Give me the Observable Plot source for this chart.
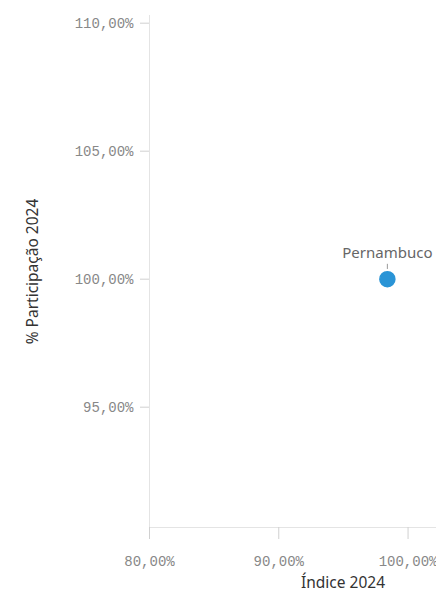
<!DOCTYPE html>
<html>
<head>
<meta charset="utf-8">
<script src="https://cdn.jsdelivr.net/npm/d3@7"></script>
<script src="https://cdn.jsdelivr.net/npm/@observablehq/plot@0.6"></script>
<style>
  html, body { margin: 0; padding: 0; background: #fff; }
  svg { display: block; }
</style>
</head>
<body>
<div id="chart"></div>
<script>
const states = ["Pernambuco"];
const indice2024 = [98.4];        // % (x)
const participacao2024 = [100.0]; // % (y)
const xTicks = [80, 90, 100];
const yTicks = [95, 100, 105, 110];
const xLabel = "Índice 2024";
const yLabel = "% Participação 2024";

const data = states.map((s, i) => ({name: s, x: indice2024[i], y: participacao2024[i]}));
const fmt = d => d.toFixed(2).replace(".", ",") + "%";
const mono = "Liberation Mono";

const chart = Plot.plot({
  width: 436,
  height: 594,
  marginLeft: 149,
  marginRight: 0,
  marginTop: 15,
  marginBottom: 67,
  style: {background: "#fff", overflow: "visible"},
  x: {domain: [80, 102.2]},
  y: {domain: [90.3, 110.3]},
  marks: [
    Plot.ruleX([80], {stroke: "#e4e4e4"}),
    Plot.ruleY([90.3], {stroke: "#e4e4e4"}),
    Plot.axisY({ticks: yTicks, tickFormat: fmt, tickSize: 9, tickPadding: 7, stroke: "#d0d0d0",
      fill: "#888", fontFamily: mono, fontSize: 14, label: null}),
    Plot.axisX({ticks: xTicks, tickFormat: fmt, tickSize: 12, tickPadding: 17, stroke: "#d0d0d0",
      fill: "#888", fontFamily: mono, fontSize: 14, label: null}),
    Plot.text([yLabel], {frameAnchor: "left", textAnchor: "middle", lineAnchor: "middle", dx: -116, rotate: -90, fontSize: 15.5,
      fontFamily: "Noto Sans", fill: "#333"}),
    Plot.text([xLabel], {frameAnchor: "bottom", textAnchor: "middle", lineAnchor: "middle", dx: 50, dy: 56, fontSize: 15.5,
      fontFamily: "Noto Sans", fill: "#333"}),
    Plot.link(data, {x1: "x", x2: "x", y1: d => d.y + 0.4, y2: d => d.y + 0.6, stroke: "#999", strokeWidth: 1}),
    Plot.dot(data, {x: "x", y: "y", r: 7.5, fill: "#2a94d6", stroke: "#2a94d6"}),
    Plot.text(data, {x: "x", y: "y", text: "name", dy: -26, fontSize: 15,
      fontFamily: "Noto Sans", fill: "#666"})
  ]
});
document.getElementById("chart").appendChild(chart);
</script>
</body>
</html>
